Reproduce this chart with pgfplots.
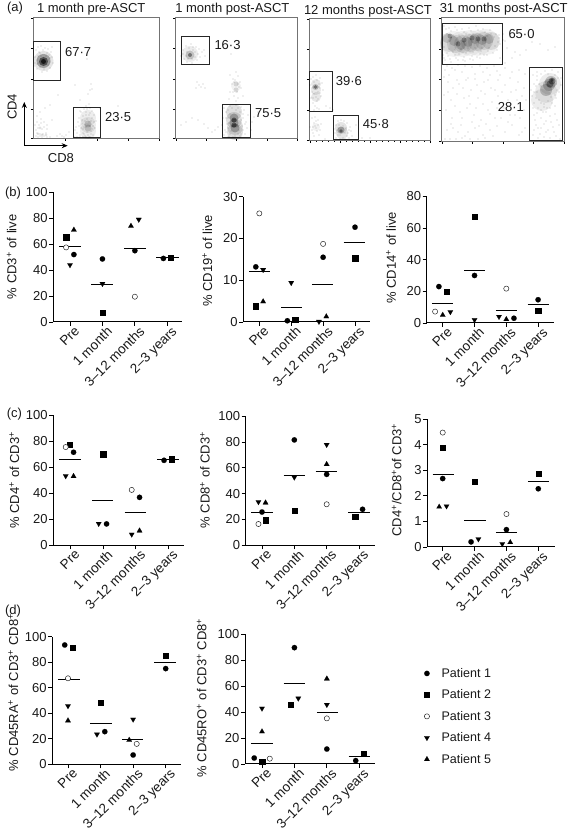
\documentclass[border=0pt]{standalone}
\usepackage{fontspec}
\setmainfont{Liberation Sans}
\usepackage{pgfplots}
\pgfplotsset{compat=1.18}
\usetikzlibrary{arrows.meta}
\definecolor{ink}{gray}{0.1}
\newcommand{\fs}{\fontsize{13}{15}\selectfont}
\pgfplotsset{
  p1/.style={only marks,mark=*,mark size=2.7,mark options={fill=black,draw=black,line width=0.1pt}},
  p2/.style={only marks,mark=square*,mark size=2.6,mark options={fill=black,draw=black,line width=0.1pt}},
  p3/.style={only marks,mark=*,mark size=2.6,mark options={fill=white,draw=black!85,line width=0.5pt}},
  p4/.style={only marks,mark=triangle*,mark size=3.1,mark options={rotate=180,fill=black,draw=black,line width=0.1pt}},
  p5/.style={only marks,mark=triangle*,mark size=3.1,mark options={fill=black,draw=black,line width=0.1pt}},
  meanl/.style={black,line width=0.9pt,no marks,forget plot},
  dot/.style={only marks,mark=*,mark size=0.42,mark options={line width=0pt,draw opacity=0,fill=black,fill opacity=0.75},forget plot},
  gate/.style={black!85,line width=1pt,no marks,forget plot},
  strip/.style={
    scale only axis,anchor=south west,clip=false,
    axis x line*=bottom,axis y line*=left,
    axis line style={-,line width=1pt,black},
    major tick style={black,line width=0.9pt},
    major tick length=4pt,tick align=outside,
    xtick={0,1,2,3},
    xticklabels={Pre,1 month,3–12 months,2–3 years},
    xticklabel style={rotate=45,anchor=north east,inner sep=1pt,font=\fontsize{13.5}{15}\selectfont,text=ink,xshift=4pt,yshift=-1pt},
    yticklabel style={/pgf/number format/assume math mode=true,font=\fs,text=ink,inner sep=1.5pt},
    ymin=0,
    every axis y label/.append style={font=\fs,text=ink,anchor=center},
  },
  flow/.style={
    scale only axis,anchor=south west,clip=false,y dir=reverse,
    axis line style={black!55,line width=0.6pt},
    major tick style={black,line width=0.4pt},
    minor tick style={black,line width=0.3pt},
    major tick length=2.5pt,minor tick length=1.2pt,tick align=outside,tick pos=left,
    xticklabels={},yticklabels={},minor tick num=4,
    title style={font=\fs,text=ink,anchor=south,yshift=-7pt},
  },
}
\newcommand{\ml}[3]{\addplot[meanl] coordinates {(#1,#3) (#2,#3)};}
\newcommand{\blob}[2]{\addplot[only marks,mark=*,mark size=#1,mark options={line width=0pt,draw opacity=0,fill=black,fill opacity=#2},forget plot]}
\newcommand{\tx}[3]{\node[anchor=west,font=\fs,text=ink,inner sep=0pt] at (axis cs:#1,#2) {#3};}
\newcommand{\sy}{\textsuperscript{+}}
\begin{document}
\begin{tikzpicture}
\useasboundingbox (0pt,0pt) rectangle (568pt,832pt);
\node[anchor=center,font=\fs,text=ink] at (15pt,824pt) {(a)};
\node[anchor=center,font=\fs,text=ink] at (13pt,639pt) {(b)};
\node[anchor=center,font=\fs,text=ink] at (14.5pt,418pt) {(c)};
\node[anchor=center,font=\fs,text=ink] at (13pt,221pt) {(d)};
% ===== panel (a) =====
\begin{axis}[flow,at={(33.3pt,693.7pt)},width=125.7pt,height=121pt,xmin=33.3,xmax=159,ymin=17.3,ymax=138.3,
  xtick={33,65,97,128,159},ytick={18,48,79,109,138},
  title={1 month pre-ASCT},title style={at={(axis description cs:0.461,1)}},
  xlabel={CD8},xlabel style={at={(axis description cs:0.22,-0.163)},anchor=center,font=\fs,text=ink},
  ylabel={CD4},ylabel style={at={(axis description cs:-0.169,0.259)},anchor=center,font=\fs,text=ink}]
\blob{10}{0.10} coordinates {(43.5,61)};
\blob{7}{0.3} coordinates {(43.5,61)};
\blob{4.5}{0.5} coordinates {(43.5,61.5)};
\blob{2.5}{0.7} coordinates {(43.5,61.5)};
\blob{8}{0.07} coordinates {(88,118) (88,125) (88,131)};
\blob{3.5}{0.15} coordinates {(88,124) (88,128)};
\blob{1.5}{0.12} coordinates {(38,134) (42,135) (46,135) (40,128)};
\addplot[dot] coordinates {(36,50)(38,47)(41,46)(45,48)(48,49)(51,52)(52,57)(53,63)(50,68)(47,71)(42,72)(37,69)(35,63)(35,57)(39,52)(50,58)(34,66)(52,47)(87,59)(76,127)(79,118)(81,112)(84,109)(86,112)(90,108)(92,111)(94,115)(96,121)(95,128)(93,135)(90,137)(85,136)(80,135)(77,133)(75,130)(82,124)(85,121)(91,121)(93,126)(83,129)(87,132)(91,131)(89,115)(83,116)(86,106)(89,104)(90,90)(92,89)(88,94)(91,84)(75,85)(80,100)(69,132)(66,135)(62,136)(57,136)(52,120)(50,105)(45,108)(40,112)(37,116)(41,119)(44,122)(47,125)(35,125)(36,130)(38,137)(42,137)(47,137)(50,137)(60,134)(64,137)(74,137)(100,108)(118,106)(58,95)
(80,111)(82,120)(84,127)(86,115)(87,119)(89,122)(90,126)(92,129)(85,125)(83,133)(81,128)(79,126)(78,122)(94,122)(92,118)(90,113)(86,127)(84,134)(88,135)(91,134)(87,109)(77,137)(80,137)(83,137)(86,137)(89,137)
(37,133)(40,134)(43,134)(46,133)(39,125)(42,129)(44,127)(37,122)(36,136)(44,136)(40,136)(38,128)(41,123)(47,129)
(40,53)(43,50)(47,53)(49,55)(38,56)(37,60)(37,64)(40,67)(44,69)(48,65)(50,62)(46,56)(41,56)(48,60)(39,63)};
\addplot[gate] coordinates {(33.3,42)(60,42)(60,81)(33.3,81)} -- cycle;
\addplot[gate] coordinates {(73.3,107.3)(100,107.3)(100,138)(73.3,138)} -- cycle;
\tx{65}{52}{67·7}\tx{105}{117}{23·5}
\draw[{Stealth[length=6pt,width=5pt]}-{Stealth[length=6pt,width=5pt]},line width=1pt] (axis cs:24.3,102) -- (axis cs:24.3,145.7) -- (axis cs:67.7,145.7);
\end{axis}
\begin{axis}[flow,at={(175.7pt,693.7pt)},width=121.6pt,height=121pt,xmin=175.7,xmax=297.3,ymin=17.3,ymax=138.3,
  xtick={176,206,236,267,297},ytick={18,48,79,109,138},
  title={1 month post-ASCT},title style={at={(axis description cs:0.466,1)}}]
\blob{8}{0.07} coordinates {(190,54)};
\blob{4.5}{0.18} coordinates {(190,55)};
\blob{2}{0.4} coordinates {(190,55)};
\blob{5}{0.05} coordinates {(236,86)};
\blob{2.5}{0.12} coordinates {(236,84) (236,90)};
\blob{8}{0.12} coordinates {(234,112) (234,120) (235,127) (235,132)};
\blob{4.5}{0.25} coordinates {(234,118) (234,123) (235,128)};
\blob{2.5}{0.4} coordinates {(234,120) (234,125)};
\addplot[dot] coordinates {(183,50)(186,46)(191,44)(196,47)(199,49)(202,52)(200,57)(197,60)(192,63)(187,62)(184,59)(181,56)(205,56)(204,50)(193,50)(231,54)(230,75)(236,72)(238,76)(233,79)(240,82)(232,84)(241,88)(230,92)(234,96)(238,98)(229,99)(236,101)(243,96)(197,82)(199,85)(201,87)(203,84)(205,88)(196,88)(224,108)(226,112)(223,118)(222,125)(225,130)(224,135)(228,137)(233,137)(240,136)(245,134)(247,128)(246,122)(248,115)(244,110)(241,107)(236,105)(230,106)(218,127)(215,130)(212,132)(208,128)(204,124)(198,120)(192,118)(186,122)(181,125)(252,122)(254,117)(251,130)(258,112)(228,118)(242,126)(243,118)(227,124)(238,134)
(226,118)(228,110)(230,114)(240,112)(243,114)(241,120)(239,130)(228,128)(226,132)(230,134)(243,130)(245,124)(236,110)(232,108)(238,108)(229,123)(231,131)(241,134)(235,136)(229,137)(234,82)(238,84)(235,80)(237,92)(233,92)(239,87)(187,52)(189,48)(193,47)(195,52)(186,56)(188,59)(192,59)(195,57)(198,54)(183,54)};
\addplot[gate] coordinates {(181.7,36.3)(209.7,36.3)(209.7,64.3)(181.7,64.3)} -- cycle;
\addplot[gate] coordinates {(222.3,104.3)(250,104.3)(250,137.3)(222.3,137.3)} -- cycle;
\tx{214.3}{45}{16·3}\tx{255}{113}{75·5}
\end{axis}
\begin{axis}[flow,at={(309.3pt,691.3pt)},width=120.7pt,height=122.4pt,xmin=309.3,xmax=430,ymin=18.3,ymax=140.7,
  xtick={310,340,370,400,430},ytick={19,49,79,110,140},
  title={12 months post-ASCT},title style={at={(axis description cs:0.486,1)},yshift=-1pt}]
\blob{5}{0.09} coordinates {(316,84) (316,90) (316,97)};
\blob{3}{0.2} coordinates {(315.5,87)};
\blob{1.8}{0.35} coordinates {(315.5,87)};
\blob{6}{0.1} coordinates {(341,128) (342,133)};
\blob{3.5}{0.25} coordinates {(341,130)};
\blob{1.8}{0.4} coordinates {(341,131)};
\blob{4}{0.05} coordinates {(316,127)};
\addplot[dot] coordinates {(311,79)(313,77)(316,75)(320,78)(322,83)(323,90)(321,96)(317,101)(315,106)(313,103)(311,98)(312,92)(310,85)(318,92)(320,88)(314,110)(317,108)(319,109)(326,106)(330,108)(333,110)(312,118)(315,117)(318,120)(321,124)(314,123)(310,127)(312,130)(317,131)(319,135)(314,136)(316,128)(320,130)(313,133)(336,125)(338,121)(341,120)(344,121)(347,123)(350,127)(351,131)(352,136)(349,138)(345,139)(340,139)(336,138)(335,133)(334,129)(346,128)(348,133)(338,135)(356,125)(362,138)(370,138)(325,139)
(314,82)(317,80)(319,84)(312,88)(314,94)(316,97)(318,99)(313,98)(320,93)(339,125)(343,126)(345,133)(347,136)(337,130)(340,135)(343,138)(338,128)(349,130)(315,126)(318,125)(316,121)(313,127)};
\addplot[gate] coordinates {(309.3,71.7)(332.3,71.7)(332.3,111.7)(309.3,111.7)} -- cycle;
\addplot[gate] coordinates {(333,115.7)(358.7,115.7)(358.7,140)(333,140)} -- cycle;
\tx{335.7}{80.7}{39·6}\tx{362.7}{123.7}{45·8}
\end{axis}
\begin{axis}[flow,at={(441.7pt,690.7pt)},width=122.3pt,height=124pt,xmin=441.7,xmax=564,ymin=17.3,ymax=141.3,
  xtick={442,472,503,533,564},ytick={18,49,79,110,141},
  title={31 months post-ASCT},title style={at={(axis description cs:0.507,1)}}]
\blob{13}{0.05} coordinates {(454,44)(462,44)(470,43)(478,43)(486,42)};
\blob{9}{0.10} coordinates {(449,43)(456,44)(463,44)(470,43)(477,42)(484,41)(491,41)};
\blob{5}{0.14} coordinates {(447,38)(454,41)(461,45)(468,42)(475,39)(482,40)(489,39)};
\blob{2.5}{0.25} coordinates {(450,36)(458,44)(464,40)(472,38)(478,39)(484,39)};
\blob{11}{0.07} coordinates {(550,84)(546,92)(542,100)};
\blob{6}{0.2} coordinates {(551,82)(549,85)(546,90)};
\blob{3.5}{0.35} coordinates {(552,81)(550,84)};
\blob{1.8}{0.5} coordinates {(552,80)};
\addplot[dot] coordinates {(444,26)(449,28)(455,27)(462,29)(469,28)(476,26)(483,29)(490,30)(496,34)(499,38)(500,44)(497,50)(493,53)(487,55)(480,58)(473,60)(465,61)(458,60)(451,62)(445,60)(443,55)(448,56)(455,55)(464,57)(472,56)(480,54)(503,40)(507,48)(515,52)(520,55)(526,50)(532,42)(540,44)(548,50)(555,47)(445,70)(449,75)(455,70)(462,72)(468,78)(475,74)(483,72)(490,75)(497,71)(505,68)(512,72)(519,70)(525,74)(448,82)(453,88)(459,84)(466,80)(471,90)(477,85)(484,82)(491,88)(498,80)(505,85)(511,92)(518,82)(524,88)(444,95)(451,100)(457,94)(464,98)(470,104)(478,98)(485,94)(492,102)(498,96)(504,108)(510,115)(517,100)(524,110)(446,110)(452,118)(460,112)(467,108)(474,115)(481,120)(488,110)(495,118)(447,130)(453,128)(461,125)(468,132)(475,128)(483,135)(490,130)(497,126)(505,132)(512,125)(519,135)(525,128)(445,139)(450,139)(456,139)(462,138)(470,139)(478,139)(485,138)(533,75)(537,72)(545,71)(552,70)(558,72)(561,78)(561,85)(559,92)(556,98)(552,103)(547,108)(543,112)(538,108)(534,103)(532,96)(531,90)(534,84)(537,80)(541,118)(546,121)(550,116)(555,114)(536,125)(541,128)(548,130)(553,127)(533,135)(538,138)(544,137)(550,138)(556,136)(560,139)(559,125)(534,115)(539,100)(544,104)(537,92)(541,86)(555,106)
(446,29)(451,31)(457,30)(464,32)(471,31)(478,30)(485,32)(491,34)(447,34)(453,35)(459,35)(466,34)(473,34)(480,35)(487,36)(494,37)(444,47)(449,49)(455,50)(461,49)(468,48)(475,48)(482,48)(489,48)(495,46)(447,53)(453,52)(459,54)(466,53)(473,52)(481,51)(488,51)(444,58)(450,59)(456,58)(463,60)(470,59)(477,57)(484,55)(498,42)(499,35)(503,34)(505,41)(510,37)(512,58)(500,58)(505,63)(447,66)(452,68)(458,65)(465,66)(472,67)(480,66)(487,68)(494,66)(500,75)(444,77)(457,80)(463,88)(475,79)(481,91)(488,80)(495,90)(502,92)(510,78)(516,90)(522,96)(448,92)(455,106)(462,118)(469,96)(476,108)(483,104)(490,114)(497,108)(508,100)(514,108)(520,118)(526,100)(451,124)(458,132)(465,136)(472,122)(479,126)(486,124)(493,136)(501,118)(508,122)(515,115)(522,132)
(537,76)(541,74)(548,74)(555,75)(558,78)(556,84)(557,90)(555,95)(551,97)(548,101)(544,107)(541,103)(536,98)(534,92)(536,86)(539,84)(533,108)(537,113)(541,110)(546,112)(550,108)(535,120)(544,124)(551,122)(538,128)(546,132)(554,132)(534,130)(540,134)(557,120)};
\addplot[gate] coordinates {(442.7,24)(502.3,24)(502.3,64.3)(442.7,64.3)} -- cycle;
\addplot[gate] coordinates {(529,68)(562.7,68)(562.7,141)(529,141)} -- cycle;
\tx{508.3}{33.7}{65·0}\tx{497.7}{106.7}{28·1}
\end{axis}
% ===== panel (b) =====
\begin{axis}[strip,at={(53.3pt,510pt)},width=128.4pt,height=129.7pt,xmin=-0.515,xmax=3.444,ymax=100,ytick={0,20,...,100},
  ylabel={\% CD3\sy{} of live},y label style={at={(axis description cs:-0.324,0.503)}}]
\addplot[p1] coordinates {(0.12,52)(1,48.6)(2,55)(2.88,49)};
\addplot[p2] coordinates {(-0.12,65.5)(1,7.5)(3.11,49.7)};
\addplot[p3] coordinates {(-0.12,57.5)(2,19.5)};
\addplot[p4] coordinates {(0,44)(1,29.5)(2.12,79)};
\addplot[p5] coordinates {(0.12,71)(1.88,74)};
\ml{-0.33}{0.33}{58}\ml{0.66}{1.34}{29}\ml{1.67}{2.35}{57}\ml{2.66}{3.35}{49.5}
\end{axis}
\begin{axis}[strip,at={(243.3pt,510pt)},width=126.7pt,height=125.3pt,xmin=-0.502,xmax=3.47,ymax=30,ytick={0,10,20,30},
  ylabel={\% CD19\sy{} of live},y label style={at={(axis description cs:-0.284,0.487)}}]
\addplot[p1] coordinates {(-0.11,13.2)(0.88,0.3)(2,15.5)(3,22.7)};
\addplot[p2] coordinates {(-0.11,3.8)(1.12,0.6)(3,15.3)};
\addplot[p3] coordinates {(0,26)(2,18.7)};
\addplot[p4] coordinates {(0.12,12.5)(1,9.4)(1.87,0.1)};
\addplot[p5] coordinates {(0.12,4.9)(2.1,1.3)};
\ml{-0.31}{0.34}{12.1}\ml{0.68}{1.33}{3.5}\ml{1.65}{2.32}{8.9}\ml{2.64}{3.3}{19}
\end{axis}
\begin{axis}[strip,at={(426.7pt,509pt)},width=127.3pt,height=126.7pt,xmin=-0.504,xmax=3.5,ymax=80,ytick={0,20,...,80},
  ylabel={\% CD14\sy{} of live},y label style={at={(axis description cs:-0.28,0.515)}}]
\addplot[p1] coordinates {(-0.12,23)(1,30)(2.24,3)(3,14.7)};
\addplot[p2] coordinates {(0.11,20)(1,67)(3,7.8)};
\addplot[p3] coordinates {(-0.24,7.2)(2,21.7)};
\addplot[p4] coordinates {(0.24,7)(1,2)(1.77,4)};
\addplot[p5] coordinates {(0,5)(2,2.3)};
\ml{-0.34}{0.33}{12.6}\ml{0.67}{1.33}{33}\ml{1.67}{2.34}{7.8}\ml{2.67}{3.34}{11.4}
\end{axis}
% ===== panel (c) =====
\begin{axis}[strip,at={(53.3pt,286.7pt)},width=131pt,height=130.3pt,xmin=-0.52,xmax=3.49,ymax=100,ytick={0,20,...,100},
  ylabel={\% CD4\sy{} of CD3\sy},y label style={at={(axis description cs:-0.298,0.5)}}]
\addplot[p1] coordinates {(0.1,71.4)(1.11,16.4)(2.12,36.8)(2.87,65.2)};
\addplot[p2] coordinates {(-0.02,77.2)(1,70)(3.1,66.2)};
\addplot[p3] coordinates {(-0.14,75.4)(1.88,42.5)};
\addplot[p4] coordinates {(-0.14,53.2)(0.87,16.6)(1.88,8.4)};
\addplot[p5] coordinates {(0.1,53)(2.12,11.2)};
\ml{-0.34}{0.32}{66.2}\ml{0.67}{1.32}{34.3}\ml{1.66}{2.33}{25}\ml{2.66}{3.34}{65.7}
\end{axis}
\begin{axis}[strip,at={(245.7pt,286.7pt)},width=129.3pt,height=129pt,xmin=-0.504,xmax=3.495,ymax=100,ytick={0,20,...,100},
  ylabel={\% CD8\sy{} of CD3\sy},y label style={at={(axis description cs:-0.315,0.506)}}]
\addplot[p1] coordinates {(0,25.8)(1,81.7)(2,55)(3.11,27.9)};
\addplot[p2] coordinates {(0.11,19.6)(1,26.9)(2.88,22.5)};
\addplot[p3] coordinates {(-0.11,16.5)(2,31.8)};
\addplot[p4] coordinates {(-0.11,33.6)(1,52.7)(2,78)};
\addplot[p5] coordinates {(0.11,33)(2,62.8)};
\ml{-0.33}{0.33}{25.8}\ml{0.67}{1.33}{54}\ml{1.66}{2.33}{57}\ml{2.67}{3.34}{25.3}
\end{axis}
\begin{axis}[strip,at={(427.3pt,285pt)},width=127.7pt,height=127.7pt,xmin=-0.483,xmax=3.524,ymax=5,ytick={0,1,...,5},
  ylabel={CD4\sy/CD8\sy of CD3\sy},y label style={at={(axis description cs:-0.24,0.525)}}]
\addplot[p1] coordinates {(0,2.68)(0.89,0.2)(2,0.68)(3,2.28)};
\addplot[p2] coordinates {(0,3.88)(1,2.57)(3,2.88)};
\addplot[p3] coordinates {(0,4.48)(2,1.29)};
\addplot[p4] coordinates {(0.12,1.6)(1.12,0.31)(1.87,0.12)};
\addplot[p5] coordinates {(-0.11,1.57)(2.12,0.18)};
\ml{-0.32}{0.35}{2.85}\ml{0.68}{1.35}{1.02}\ml{1.67}{2.34}{0.57}\ml{2.67}{3.33}{2.58}
\end{axis}
% ===== panel (d) =====
\begin{axis}[strip,at={(52.3pt,67.7pt)},width=128.7pt,height=127.6pt,xmin=-0.482,xmax=3.47,ymax=100,ytick={0,20,...,100},
  ylabel={\% CD45RA\sy{} of CD3\sy{} CD8\sy},y label style={at={(axis description cs:-0.303,0.561)}}]
\addplot[p1] coordinates {(-0.1,93.5)(1.13,25.6)(2,7.3)(3,75)};
\addplot[p2] coordinates {(0.13,91.4)(1,48.3)(3,85.4)};
\addplot[p3] coordinates {(0,67.4)(2.11,16)};
\addplot[p4] coordinates {(0,45.7)(0.89,23.5)(2,35.2)};
\addplot[p5] coordinates {(0,34.2)(1.88,19)};
\ml{-0.31}{0.37}{66.6}\ml{0.67}{1.34}{32.4}\ml{1.66}{2.31}{19.6}\ml{2.65}{3.31}{80}
\end{axis}
\begin{axis}[strip,at={(245pt,68pt)},width=130.3pt,height=130pt,xmin=-0.524,xmax=3.494,ymax=100,ytick={0,20,...,100},
  ylabel={\% CD45RO\sy{} of CD3\sy{} CD8\sy},y label style={at={(axis description cs:-0.332,0.508)}},
  legend style={at={(axis description cs:1.374,0.754)},anchor=north west,draw=none,fill=none,
    font=\fontsize{12.5}{14}\selectfont,text=ink,row sep=6.9pt,inner sep=0pt,
    /tikz/every odd column/.append style={column sep=10pt}},legend cell align=left]
\addplot[p1] coordinates {(-0.24,4.6)(1,89.5)(2,11.5)(2.89,2.6)};
\addplot[p2] coordinates {(0,2)(0.89,45.9)(3.12,8.2)};
\addplot[p3] coordinates {(0.24,4.1)(2,35.1)};
\addplot[p4] coordinates {(0,42.8)(1.12,50.5)(2,45.6)};
\addplot[p5] coordinates {(0,24.9)(2,65.6)};
\ml{-0.34}{0.34}{15.9}\ml{0.67}{1.34}{61.8}\ml{1.69}{2.34}{39.5}\ml{2.67}{3.34}{5.6}
\legend{Patient 1,Patient 2,Patient 3,Patient 4,Patient 5}
\end{axis}
\end{tikzpicture}
\end{document}
